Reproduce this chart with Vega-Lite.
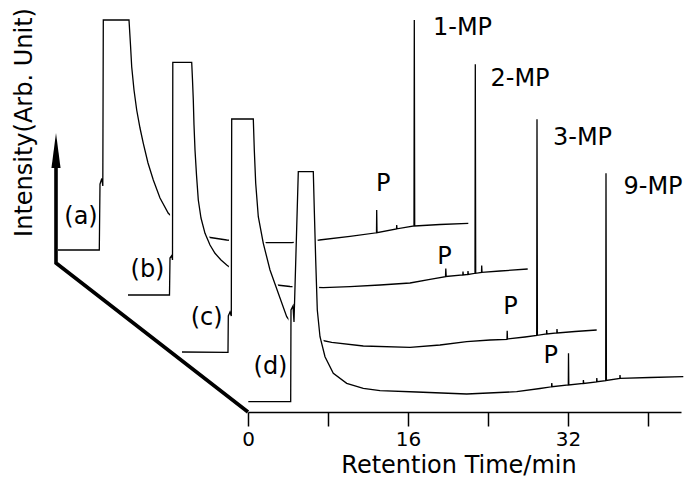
{
  "$schema": "https://vega.github.io/schema/vega-lite/v6.json",
  "width": 433,
  "height": 412,
  "autosize": {"type": "none"},
  "padding": {"left": 248, "top": 0, "right": 15, "bottom": 68},
  "config": {"view": {"stroke": null}, "text": {"font": "DejaVu Sans"}},
  "datasets": {
    "tr": [
      {"s":"a","i":1,"t":-19.0,"v":162},{"s":"a","i":2,"t":-14.87,"v":162},{"s":"a","i":3,"t":-14.8,"v":228},{"s":"a","i":4,"t":-14.62,"v":233.5},{"s":"a","i":5,"t":-14.52,"v":226},{"s":"a","i":6,"t":-14.47,"v":392},{"s":"a","i":7,"t":-11.9,"v":392},{"s":"a","i":8,"t":-11.75,"v":367},{"s":"a","i":9,"t":-11.63,"v":345.3},{"s":"a","i":10,"t":-11.4,"v":322},{"s":"a","i":11,"t":-11.13,"v":302},{"s":"a","i":12,"t":-10.8,"v":284},{"s":"a","i":13,"t":-10.47,"v":268.7},{"s":"a","i":14,"t":-10.0,"v":249},{"s":"a","i":15,"t":-9.47,"v":232},{"s":"a","i":16,"t":-8.8,"v":214},{"s":"a","i":17,"t":-7.97,"v":198.7},{"s":"a","i":18,"t":-6.8,"v":188},{"s":"a","i":19,"t":-5.3,"v":180},{"s":"a","i":20,"t":-4.1,"v":175},{"s":"a","i":21,"t":-2.13,"v":172},{"s":"a","i":22,"t":-0.3,"v":170.5},{"s":"a","i":23,"t":1.7,"v":169.5},{"s":"a","i":24,"t":4.37,"v":169.3},{"s":"a","i":25,"t":7.13,"v":172},{"s":"a","i":26,"t":10.2,"v":175.7},{"s":"a","i":27,"t":12.85,"v":179.2},{"s":"a","i":28,"t":12.87,"v":202},{"s":"a","i":29,"t":12.9,"v":179.3},{"s":"a","i":30,"t":14.85,"v":183},{"s":"a","i":31,"t":14.87,"v":187},{"s":"a","i":32,"t":14.9,"v":183.2},{"s":"a","i":33,"t":16.6,"v":186},{"s":"a","i":34,"t":16.63,"v":392},{"s":"a","i":35,"t":16.67,"v":186},{"s":"a","i":36,"t":19.2,"v":187.5},{"s":"a","i":37,"t":22.03,"v":188.7},
      {"s":"b","i":1,"t":-12.0,"v":117},{"s":"b","i":2,"t":-7.85,"v":117},{"s":"b","i":3,"t":-7.8,"v":154},{"s":"b","i":4,"t":-7.62,"v":156.5},{"s":"b","i":5,"t":-7.55,"v":152},{"s":"b","i":6,"t":-7.52,"v":349.7},{"s":"b","i":7,"t":-5.63,"v":349.7},{"s":"b","i":8,"t":-5.55,"v":332},{"s":"b","i":9,"t":-5.47,"v":312},{"s":"b","i":10,"t":-5.4,"v":287},{"s":"b","i":11,"t":-5.3,"v":262},{"s":"b","i":12,"t":-5.15,"v":237},{"s":"b","i":13,"t":-4.97,"v":212},{"s":"b","i":14,"t":-4.7,"v":194},{"s":"b","i":15,"t":-4.3,"v":178.7},{"s":"b","i":16,"t":-3.8,"v":167},{"s":"b","i":17,"t":-3.3,"v":158.7},{"s":"b","i":18,"t":-2.7,"v":152},{"s":"b","i":19,"t":-2.13,"v":147},{"s":"b","i":20,"t":-0.8,"v":137},{"s":"b","i":21,"t":0.7,"v":130.5},{"s":"b","i":22,"t":2.43,"v":127.5},{"s":"b","i":23,"t":4.2,"v":125.5},{"s":"b","i":24,"t":7.53,"v":124.3},{"s":"b","i":25,"t":10.2,"v":125.3},{"s":"b","i":26,"t":13.2,"v":127},{"s":"b","i":27,"t":16.2,"v":129},{"s":"b","i":28,"t":18.2,"v":132.7},{"s":"b","i":29,"t":19.75,"v":135.3},{"s":"b","i":30,"t":19.78,"v":143.5},{"s":"b","i":31,"t":19.82,"v":135.5},{"s":"b","i":32,"t":21.48,"v":137},{"s":"b","i":33,"t":21.5,"v":140.5},{"s":"b","i":34,"t":21.53,"v":137},{"s":"b","i":35,"t":21.98,"v":137.5},{"s":"b","i":36,"t":22.0,"v":141},{"s":"b","i":37,"t":22.03,"v":137.6},{"s":"b","i":38,"t":22.7,"v":138.7},{"s":"b","i":39,"t":22.73,"v":347.7},{"s":"b","i":40,"t":22.77,"v":138.7},{"s":"b","i":41,"t":23.35,"v":139.5},{"s":"b","i":42,"t":23.37,"v":146.5},{"s":"b","i":43,"t":23.4,"v":139.6},{"s":"b","i":44,"t":25.2,"v":141},{"s":"b","i":45,"t":27.97,"v":143},
      {"s":"c","i":1,"t":-6.6,"v":60},{"s":"c","i":2,"t":-2.0,"v":59.7},{"s":"c","i":3,"t":-1.97,"v":96},{"s":"c","i":4,"t":-1.8,"v":100},{"s":"c","i":5,"t":-1.67,"v":96},{"s":"c","i":6,"t":-1.63,"v":293},{"s":"c","i":7,"t":0.53,"v":293},{"s":"c","i":8,"t":0.63,"v":262},{"s":"c","i":9,"t":0.77,"v":228.7},{"s":"c","i":10,"t":1.03,"v":195.3},{"s":"c","i":11,"t":1.53,"v":168.7},{"s":"c","i":12,"t":2.2,"v":142},{"s":"c","i":13,"t":3.03,"v":118.7},{"s":"c","i":14,"t":3.87,"v":95.3},{"s":"c","i":15,"t":4.7,"v":84},{"s":"c","i":16,"t":5.7,"v":77},{"s":"c","i":17,"t":7.0,"v":72.5},{"s":"c","i":18,"t":8.37,"v":69.7},{"s":"c","i":19,"t":11.53,"v":66},{"s":"c","i":20,"t":16.2,"v":64.7},{"s":"c","i":21,"t":19.2,"v":67},{"s":"c","i":22,"t":21.87,"v":70.3},{"s":"c","i":23,"t":24.2,"v":72},{"s":"c","i":24,"t":25.9,"v":72.7},{"s":"c","i":25,"t":25.92,"v":81.3},{"s":"c","i":26,"t":25.95,"v":73},{"s":"c","i":27,"t":27.7,"v":75},{"s":"c","i":28,"t":28.87,"v":76.5},{"s":"c","i":29,"t":28.9,"v":292.7},{"s":"c","i":30,"t":28.94,"v":76.7},{"s":"c","i":31,"t":29.85,"v":78},{"s":"c","i":32,"t":29.87,"v":82},{"s":"c","i":33,"t":29.9,"v":78},{"s":"c","i":34,"t":30.88,"v":79},{"s":"c","i":35,"t":30.9,"v":83},{"s":"c","i":36,"t":30.93,"v":79},{"s":"c","i":37,"t":32.7,"v":80.5},{"s":"c","i":38,"t":34.87,"v":82},
      {"s":"d","i":1,"t":0.03,"v":10.3},{"s":"d","i":2,"t":4.27,"v":10.3},{"s":"d","i":3,"t":4.3,"v":102},{"s":"d","i":4,"t":4.5,"v":106},{"s":"d","i":5,"t":4.6,"v":90},{"s":"d","i":6,"t":5.03,"v":240.3},{"s":"d","i":7,"t":6.53,"v":240.3},{"s":"d","i":8,"t":6.63,"v":202},{"s":"d","i":9,"t":6.77,"v":152},{"s":"d","i":10,"t":6.93,"v":102},{"s":"d","i":11,"t":7.2,"v":75.3},{"s":"d","i":12,"t":7.7,"v":55.3},{"s":"d","i":13,"t":8.53,"v":38.7},{"s":"d","i":14,"t":9.87,"v":28.7},{"s":"d","i":15,"t":11.53,"v":23.7},{"s":"d","i":16,"t":13.2,"v":21.3},{"s":"d","i":17,"t":16.87,"v":20},{"s":"d","i":18,"t":21.87,"v":18},{"s":"d","i":19,"t":26.87,"v":20.3},{"s":"d","i":20,"t":29.2,"v":23.5},{"s":"d","i":21,"t":30.35,"v":25.2},{"s":"d","i":22,"t":30.38,"v":29},{"s":"d","i":23,"t":30.41,"v":25.3},{"s":"d","i":24,"t":32.03,"v":27},{"s":"d","i":25,"t":32.05,"v":58.7},{"s":"d","i":26,"t":32.08,"v":27},{"s":"d","i":27,"t":33.52,"v":28.5},{"s":"d","i":28,"t":33.54,"v":32},{"s":"d","i":29,"t":33.57,"v":28.6},{"s":"d","i":30,"t":34.86,"v":30.2},{"s":"d","i":31,"t":34.88,"v":34},{"s":"d","i":32,"t":34.91,"v":30.3},{"s":"d","i":33,"t":35.77,"v":31.3},{"s":"d","i":34,"t":35.8,"v":238.7},{"s":"d","i":35,"t":35.84,"v":31.5},{"s":"d","i":36,"t":37.18,"v":33.5},{"s":"d","i":37,"t":37.2,"v":37},{"s":"d","i":38,"t":37.23,"v":33.6},{"s":"d","i":39,"t":40.2,"v":34.5},{"s":"d","i":40,"t":43.53,"v":35.3}
    ],
    "frame": [
      {"i":1,"t":-19.2,"v":250},{"i":2,"t":-19.2,"v":149},{"i":3,"t":0,"v":0}
    ],
    "arrow": [
      {"t":-19.2,"v":261.5}
    ],
    "ytitle": [
      {"txt":"Intensity(Arb. Unit)","t":-22.3,"v":289.5}
    ],
    "labels": [
      {"txt":"(a)","t":-16.7,"v":195.5},
      {"txt":"(b)","t":-10.05,"v":142},
      {"txt":"(c)","t":-4.13,"v":94.5},
      {"txt":"(d)","t":2.25,"v":45},
      {"txt":"P","t":13.53,"v":228},
      {"txt":"P","t":19.65,"v":155.3},
      {"txt":"P","t":26.25,"v":105.3},
      {"txt":"P","t":30.28,"v":56.2},
      {"txt":"1-MP","t":21.45,"v":384},
      {"txt":"2-MP","t":27.2,"v":333.5},
      {"txt":"3-MP","t":33.45,"v":274},
      {"txt":"9-MP","t":40.5,"v":225}
    ]
  },
  "encoding": {
    "x": {
      "field": "t", "type": "quantitative",
      "scale": {"domain": [0, 43.3], "nice": false, "zero": false},
      "axis": {
        "values": [0, 8, 16, 24, 32, 40],
        "labelExpr": "datum.value % 16 === 0 ? datum.label : ''",
        "grid": false, "zindex": 1,
        "domainColor": "black", "domainWidth": 1.5,
        "tickColor": "black", "tickWidth": 1.5, "tickSize": 14,
        "labelFont": "DejaVu Sans", "labelFontSize": 20, "labelColor": "black",
        "labelPadding": 3, "labelFlush": false, "labelOverlap": false,
        "title": "Retention Time/min",
        "titleFont": "DejaVu Sans", "titleFontSize": 24, "titleFontWeight": "normal", "titleColor": "black",
        "titleX": 210.5, "titleY": 60, "titleBaseline": "alphabetic", "titleAlign": "center"
      }
    },
    "y": {
      "field": "v", "type": "quantitative",
      "scale": {"domain": [0, 412], "nice": false, "zero": false},
      "axis": null
    }
  },
  "layer": [
    {"data": {"name": "tr"}, "transform": [{"filter": "datum.s === 'a'"}],
     "mark": {"type": "area", "fill": "white", "stroke": "white", "strokeWidth": 5, "opacity": 1},
     "encoding": {"y2": {"datum": 0}}},
    {"data": {"name": "tr"}, "transform": [{"filter": "datum.s === 'a'"}],
     "mark": {"type": "line", "color": "black", "strokeWidth": 1.3},
     "encoding": {"order": {"field": "i", "type": "quantitative"}}},
    {"data": {"name": "tr"}, "transform": [{"filter": "datum.s === 'b'"}],
     "mark": {"type": "area", "fill": "white", "stroke": "white", "strokeWidth": 5, "opacity": 1},
     "encoding": {"y2": {"datum": 0}}},
    {"data": {"name": "tr"}, "transform": [{"filter": "datum.s === 'b'"}],
     "mark": {"type": "line", "color": "black", "strokeWidth": 1.3},
     "encoding": {"order": {"field": "i", "type": "quantitative"}}},
    {"data": {"name": "tr"}, "transform": [{"filter": "datum.s === 'c'"}],
     "mark": {"type": "area", "fill": "white", "stroke": "white", "strokeWidth": 5, "opacity": 1},
     "encoding": {"y2": {"datum": 0}}},
    {"data": {"name": "tr"}, "transform": [{"filter": "datum.s === 'c'"}],
     "mark": {"type": "line", "color": "black", "strokeWidth": 1.3},
     "encoding": {"order": {"field": "i", "type": "quantitative"}}},
    {"data": {"name": "tr"}, "transform": [{"filter": "datum.s === 'd'"}],
     "mark": {"type": "area", "fill": "white", "stroke": "white", "strokeWidth": 5, "opacity": 1},
     "encoding": {"y2": {"datum": 0}}},
    {"data": {"name": "tr"}, "transform": [{"filter": "datum.s === 'd'"}],
     "mark": {"type": "line", "color": "black", "strokeWidth": 1.3},
     "encoding": {"order": {"field": "i", "type": "quantitative"}}},
    {"data": {"name": "frame"},
     "mark": {"type": "line", "color": "black", "strokeWidth": 3.6, "strokeJoin": "miter", "strokeCap": "butt"},
     "encoding": {"order": {"field": "i", "type": "quantitative"}}},
    {"data": {"name": "arrow"},
     "mark": {"type": "point", "filled": true, "color": "black", "opacity": 1, "size": 1225, "shape": "M0,-1L0.26,1L-0.26,1Z"}},
    {"data": {"name": "ytitle"},
     "mark": {"type": "text", "font": "DejaVu Sans", "fontSize": 24, "color": "black", "align": "center", "baseline": "middle", "angle": 270},
     "encoding": {"text": {"field": "txt", "type": "nominal"}}},
    {"data": {"name": "labels"},
     "mark": {"type": "text", "font": "DejaVu Sans", "fontSize": 24, "color": "black", "align": "center", "baseline": "middle"},
     "encoding": {"text": {"field": "txt", "type": "nominal"}}}
  ]
}
